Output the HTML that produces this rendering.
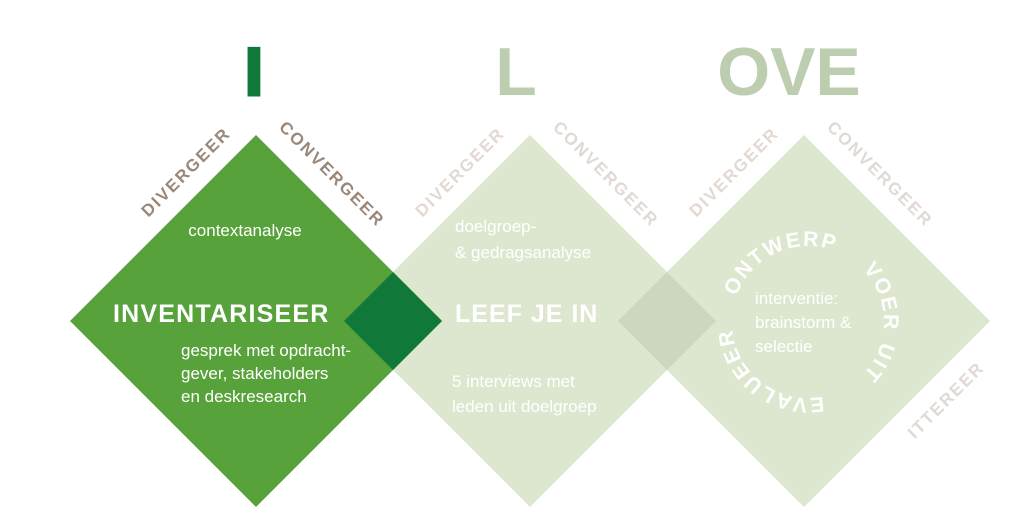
<!DOCTYPE html>
<html><head><meta charset="utf-8"><style>
html,body{margin:0;padding:0;background:#fff;}
svg{display:block;}
text{font-family:"Liberation Sans","DejaVu Sans",sans-serif;}
</style></head><body>
<svg width="1024" height="526" viewBox="0 0 1024 526" xmlns="http://www.w3.org/2000/svg">
<defs>
<path id="circ" d="M732,322 A76,76 0 1 1 884,322 A76,76 0 1 1 732,322"/>
</defs>
<polygon points="530,135 716,321 530,507 344,321" fill="#dde7cf"/>
<polygon points="804,135 990,321 804,507 618,321" fill="#dde7cf"/>
<polygon points="667,272 716,321 667,370 618,321" fill="#ccd6c1"/>
<polygon points="256,135 442,321 256,507 70,321" fill="#57a23a"/>
<polygon points="393,272 442,321 393,370 344,321" fill="#107838"/>

<text x="254" y="95" font-size="68" font-weight="bold" fill="#107838" stroke="#107838" stroke-width="3" text-anchor="middle">I</text>
<text x="516" y="95" font-size="68" font-weight="bold" fill="#bccdb0" text-anchor="middle">L</text>
<text x="789" y="95" font-size="68" font-weight="bold" fill="#bccdb0" text-anchor="middle">OVE</text>

<g font-size="17" font-weight="bold" letter-spacing="2" text-anchor="middle">
<text transform="translate(190,176) rotate(-45)" fill="#9b8778">DIVERGEER</text>
<text transform="translate(328,178) rotate(45)" fill="#9b8778">CONVERGEER</text>
<text transform="translate(464,176) rotate(-45)" fill="#e3d8d2">DIVERGEER</text>
<text transform="translate(602,178) rotate(45)" fill="#e3d8d2">CONVERGEER</text>
<text transform="translate(738,176) rotate(-45)" fill="#e3d8d2">DIVERGEER</text>
<text transform="translate(876,178) rotate(45)" fill="#e3d8d2">CONVERGEER</text>
<text transform="translate(950,404) rotate(-45)" fill="#e3d8d2">ITTEREER</text>
</g>

<g fill="#fff">
<text x="245" y="236" font-size="17" text-anchor="middle">contextanalyse</text>
<text x="113" y="322" font-size="25" font-weight="bold" letter-spacing="1.2">INVENTARISEER</text>
<text x="181" y="356" font-size="17">gesprek met opdracht-</text>
<text x="181" y="379" font-size="17">gever, stakeholders</text>
<text x="181" y="402" font-size="17">en deskresearch</text>
</g>
<g fill="#fff">
<text x="455" y="232" font-size="17">doelgroep-</text>
<text x="455" y="258" font-size="17">&amp; gedragsanalyse</text>
<text x="455" y="322" font-size="25" font-weight="bold" letter-spacing="1">LEEF JE IN</text>
<text x="452" y="387" font-size="17">5 interviews met</text>
<text x="452" y="412" font-size="17">leden uit doelgroep</text>
</g>
<g fill="#fff">
<text x="755" y="304" font-size="17">interventie:</text>
<text x="755" y="328" font-size="17">brainstorm &amp;</text>
<text x="755" y="352" font-size="17">selectie</text>
<g font-size="21" font-weight="bold" letter-spacing="2">
<text><textPath href="#circ" startOffset="26">ONTWERP</textPath></text>
<text><textPath href="#circ" startOffset="180">VOER</textPath></text>
<text><textPath href="#circ" startOffset="258">UIT</textPath></text>
<text><textPath href="#circ" startOffset="342">EVALUEER</textPath></text>
</g>
</g>
</svg>
</body></html>
